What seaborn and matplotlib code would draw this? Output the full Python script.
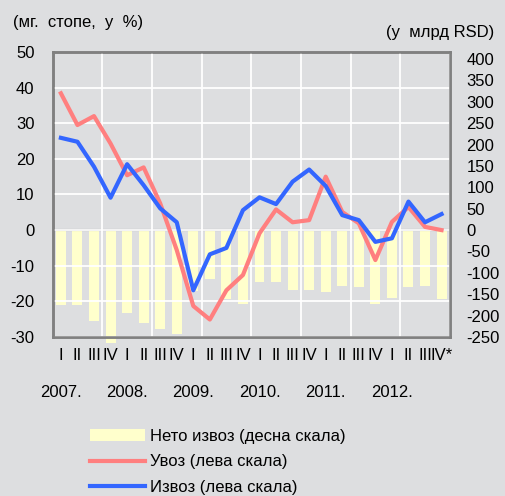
import numpy as np
import pandas as pd
import matplotlib.pyplot as plt
import seaborn as sns
from matplotlib.patches import Patch
from matplotlib.lines import Line2D

# quarterly data, 2007 Q1 .. 2012 Q4
years = ["2007.", "2008.", "2009.", "2010.", "2011.", "2012."]
quarters = ["I", "II", "III", "IV"]
imports = [38.4, 29.5, 32.0, 24.3, 15.4, 17.6, 7.5, -5.6, -21.3, -25.1, -16.9, -12.6,
           -0.9, 5.8, 2.2, 2.8, 15.0, 5.1, 1.9, -8.4, 2.3, 6.5, 0.9, 0.0]
exports = [25.9, 24.8, 17.8, 9.1, 18.5, 12.6, 6.1, 2.2, -16.9, -6.8, -5.0, 5.6,
           9.2, 7.3, 13.6, 17.0, 12.4, 4.2, 2.8, -3.3, -2.3, 8.0, 2.2, 4.5]
net_exports = [-175, -175, -213, -264, -195, -218, -232, -242, -143, -115, -162, -172,
               -121, -121, -139, -139, -144, -130, -133, -172, -158, -133, -130, -162]

labels = []
for y in years:
    for q in quarters:
        labels.append(f"{q}\n{y}" if q == "I" else q)
labels[-1] = "IV*"

df = pd.DataFrame({"idx": np.arange(len(imports)), "imports": imports,
                   "exports": exports, "net": net_exports})

plt.rcParams["font.family"] = ["Liberation Sans", "DejaVu Sans"]
plt.rcParams["font.size"] = 12
plt.rcParams["axes.unicode_minus"] = False

bg = "#DDDEE0"
pink = "#FF7F7F"
blue = "#3366FF"
bar_col = "#FFFFCC"

fig = plt.figure(figsize=(5.06, 4.96), dpi=100, facecolor=bg)
ax = fig.add_axes([0.104, 0.3206, 0.785, 0.5746])
ax2 = ax.twinx()

# bars on right scale (behind), lines on left scale (front)
ax.set_zorder(2)
ax.patch.set_visible(False)
ax2.set_zorder(1)
ax2.patch.set_facecolor("#C0C0C0")

sns.barplot(data=df, x="idx", y="net", color=bar_col, saturation=1, width=0.6,
            ax=ax2)
for p in ax2.patches:
    p.set_clip_on(False)

sns.lineplot(data=df, x="idx", y="imports", color=pink, linewidth=3, ax=ax)
sns.lineplot(data=df, x="idx", y="exports", color=blue, linewidth=3, ax=ax)
ax.axhline(0, color="#8C8C8C", lw=1.5, zorder=1)

ax.set_xlim(-0.5, len(imports) - 0.5)
ax.set_ylim(-30, 50)
ax.set_yticks(np.arange(-30, 51, 10))
ax2.set_ylim(-250, 416.67)
ax2.set_yticks(np.arange(-250, 401, 50))

ax.set_xticks(np.arange(len(labels)))
ax.set_xticklabels(labels, linespacing=2.8)
ax.set_xticks(np.arange(-0.5, len(labels), 3), minor=True)
ax.tick_params(axis="x", which="both", length=0, pad=8)
ax.tick_params(axis="y", length=0, pad=13)
ax2.tick_params(axis="y", length=0, pad=12)
ax.grid(axis="y", which="major", color="white", lw=1.3)
ax.grid(axis="x", which="minor", color="white", lw=1.3)
ax.grid(axis="x", which="major", visible=False)
ax2.grid(False)

for a in (ax, ax2):
    a.set_xlabel("")
    a.set_ylabel("")
    for s in a.spines.values():
        s.set_color("#808080")
        s.set_linewidth(1.8)

fig.text(13 / 506, 1 - 22 / 496, "(мг.  стопе,  у  %)", ha="left", va="center")
fig.text(494 / 506, 1 - 32 / 496, "(у  млрд RSD)", ha="right", va="center")

handles = [Patch(facecolor=bar_col, edgecolor="none"),
           Line2D([], [], color=pink, lw=3),
           Line2D([], [], color=blue, lw=3)]
fig.legend(handles, ["Нето извоз (десна скала)", "Увоз (лева скала)",
                     "Извоз (лева скала)"],
           loc="upper left", bbox_to_anchor=(90 / 506, 1 - 429 / 496),
           frameon=False, handlelength=3.3, handletextpad=0.3,
           labelspacing=0.62, borderpad=0, borderaxespad=0)

fig.savefig("out.png", dpi=100, facecolor=bg)
